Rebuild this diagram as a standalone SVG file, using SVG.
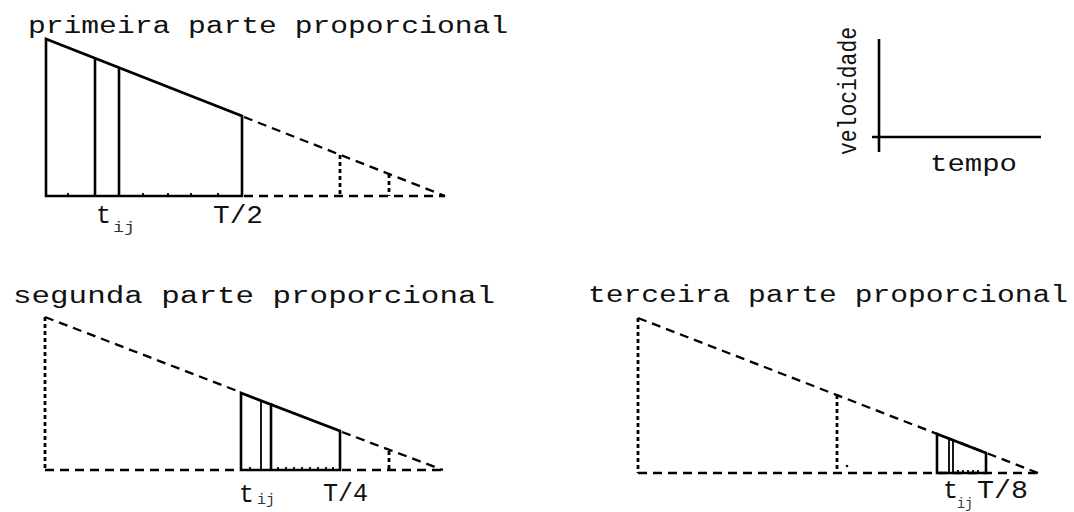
<svg xmlns="http://www.w3.org/2000/svg" width="1074" height="512" viewBox="0 0 1074 512">
<style>
.s{stroke:#000;stroke-width:2.6;fill:none;stroke-linejoin:miter}
.th{stroke:#000;stroke-width:1.8;fill:none}
.d{stroke:#000;stroke-width:2.3;stroke-dasharray:9 6;fill:none}
.dt{stroke:#000;stroke-width:2.8;stroke-dasharray:4 3;fill:none}
.t{font-family:"Liberation Mono","DejaVu Sans Mono",monospace;font-size:23px;fill:#111}
.sub{font-family:"Liberation Mono","DejaVu Sans Mono",monospace;font-size:15px;fill:#333}
</style>
<rect width="1074" height="512" fill="#fff"/>

<g id="titles">
<text class="t" x="28" y="33" textLength="480" lengthAdjust="spacingAndGlyphs">primeira parte proporcional</text>
<text class="t" x="13" y="303" textLength="482" lengthAdjust="spacingAndGlyphs">segunda parte proporcional</text>
<text class="t" x="588" y="302" textLength="480" lengthAdjust="spacingAndGlyphs">terceira parte proporcional</text>
</g>

<g id="axes">
<line class="s" x1="879" y1="39" x2="879" y2="152"/>
<line class="s" x1="872" y1="137" x2="1041" y2="137"/>
<text class="t" style="font-size:25px" transform="translate(856,155) rotate(-90)" textLength="128" lengthAdjust="spacingAndGlyphs">velocidade</text>
<text class="t" x="930" y="171" textLength="87" lengthAdjust="spacingAndGlyphs">tempo</text>
</g>

<g id="first-part">
<polygon class="s" points="46,39 46,196 242,196 242,116"/>
<line class="s" x1="95" y1="58" x2="95" y2="196"/>
<line class="s" x1="119" y1="68" x2="119" y2="196"/>
<path class="th" d="M68,196v-3M143,196v-3M168,196v-3M191,196v-3M218,196v-3"/>
<line class="d" x1="244" y1="117" x2="445" y2="196"/>
<line class="d" x1="244" y1="196" x2="445" y2="196"/>
<line class="dt" x1="340" y1="155" x2="340" y2="196"/>
<line class="dt" x1="389" y1="174" x2="389" y2="196"/>
<text class="t" style="font-size:25px" x="96" y="223">t</text>
<text class="sub" x="113" y="232" textLength="22" lengthAdjust="spacingAndGlyphs">ij</text>
<text class="t" style="font-size:25px" x="213" y="223" textLength="50" lengthAdjust="spacingAndGlyphs">T/2</text>
</g>

<g id="second-part">
<line class="dt" x1="45" y1="317" x2="45" y2="470"/>
<line class="d" x1="45" y1="317" x2="240" y2="392"/>
<line class="d" x1="45" y1="470" x2="240" y2="470"/>
<polygon class="s" points="241,393 241,470 340,470 340,431"/>
<line class="th" x1="261" y1="400" x2="261" y2="470"/>
<line class="s" x1="271" y1="403" x2="271" y2="470"/>
<path class="th" d="M278,470v-3M286,470v-3M294,470v-3M302,470v-3M310,470v-3M318,470v-3M326,470v-3M333,470v-3M250,470v-3"/>
<line class="d" x1="342" y1="432" x2="443" y2="470"/>
<line class="d" x1="342" y1="470" x2="443" y2="470"/>
<line class="dt" x1="389" y1="451" x2="389" y2="470"/>
<text class="t" style="font-size:25px" x="239" y="502">t</text>
<text class="sub" x="257" y="504" textLength="18" lengthAdjust="spacingAndGlyphs">ij</text>
<text class="t" style="font-size:25px" x="323" y="501" textLength="45" lengthAdjust="spacingAndGlyphs">T/4</text>
</g>

<g id="third-part">
<line class="dt" x1="638" y1="318" x2="638" y2="473"/>
<line class="d" x1="638" y1="318" x2="1038" y2="473"/>
<line class="d" x1="638" y1="473" x2="1038" y2="473"/>
<line class="dt" x1="837" y1="395" x2="837" y2="473"/>
<circle cx="847" cy="466" r="1.3" fill="#000"/>
<polygon class="s" points="937,434 937,473 986,473 986,453" fill="#fff"/>
<line class="th" x1="949" y1="438" x2="949" y2="473"/>
<line class="th" x1="953" y1="440" x2="953" y2="473"/>
<path class="th" d="M958,473v-3M963,473v-3M968,473v-3M973,473v-3M978,473v-3"/>
<text class="t" style="font-size:25px" x="943" y="498">t</text>
<text class="sub" x="957" y="508" textLength="16" lengthAdjust="spacingAndGlyphs">ij</text>
<text class="t" style="font-size:25px" x="977" y="498" textLength="51" lengthAdjust="spacingAndGlyphs">T/8</text>
</g>
</svg>
